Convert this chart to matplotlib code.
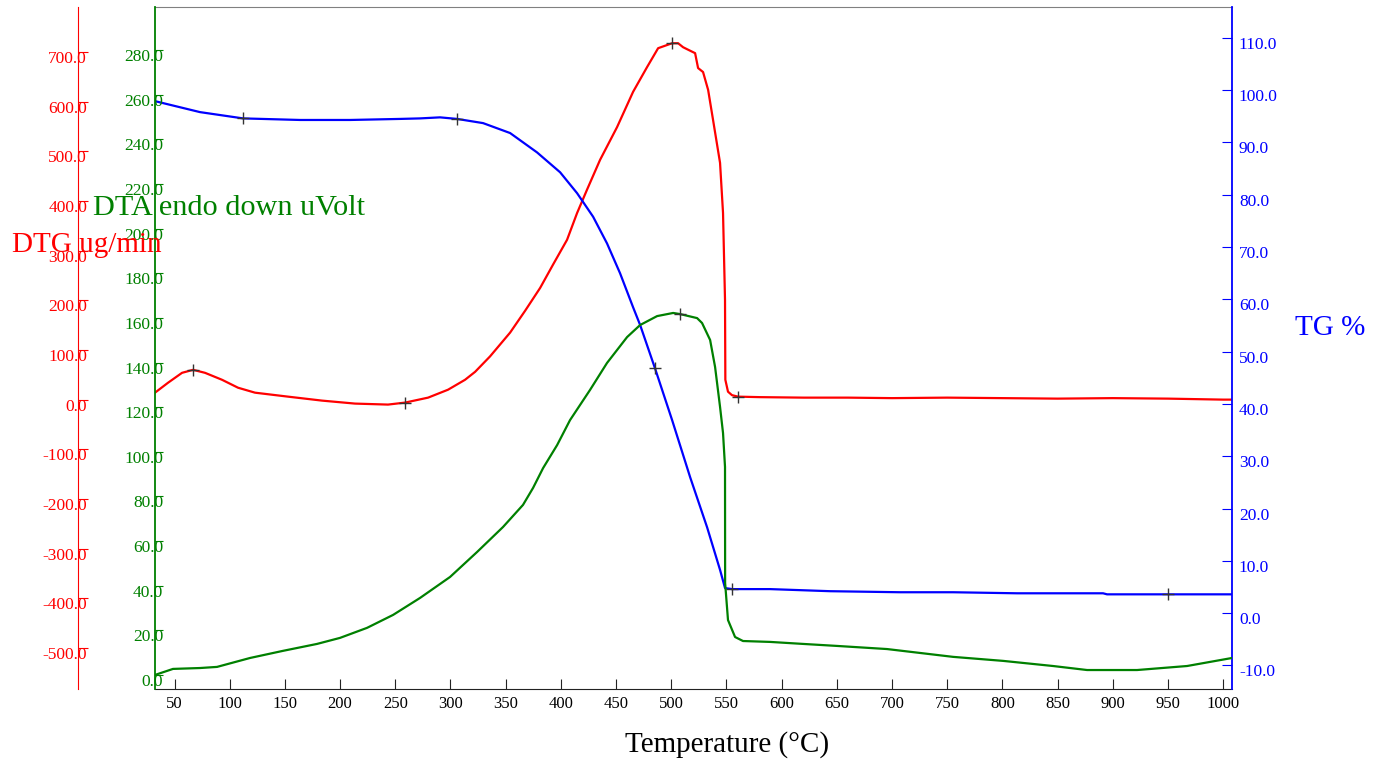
import numpy as np
import matplotlib
matplotlib.use("Agg")
import matplotlib.pyplot as plt
from matplotlib.transforms import ScaledTranslation

plt.rcParams['font.family'] = ['Liberation Serif', 'DejaVu Serif']

# --- data (temperature in °C) ---
dtg_t = [32.3, 44.1, 56.8, 66.8, 77.6, 93.0, 107.5, 122.9, 152.8, 183.6, 213.5, 243.4,
         258.8, 279.7, 297.8, 313.2, 322.3, 335.8, 354.0, 367.6, 381.2, 392.9, 405.6,
         414.7, 423.7, 435.5, 450.9, 465.4, 478.1, 488.1, 500.8, 506.2, 510.7, 514.3,
         521.6, 524.3, 528.8, 533.4, 537.9, 544.2, 546.9, 548.7, 549.0, 551.4, 555.0,
         560.5, 580, 620, 660, 700, 750, 800, 850, 900, 950, 1000, 1008]
dtg_v = [14, 34, 54, 60, 54, 40, 24, 14, 6, -2, -8, -10,
         -6, 4, 20, 40, 56, 87, 135, 179, 225, 272, 322,
         376, 423, 483, 549, 620, 670, 708, 718, 718, 710, 706,
         698, 668, 660, 624, 563, 477, 376, 201, 40, 16, 9,
         6, 5, 4, 4, 3, 4, 3, 2, 3, 2, 0, 0]

tg_t = [32.3, 73.1, 112.1, 163.7, 209.0, 254.3, 272.4, 290.5, 306.0, 329.5, 354.0,
        378.4, 399.3, 414.7, 429.2, 441.8, 453.6, 465.4, 471.8, 485.3, 500.8, 517.1,
        532.5, 544.3, 548.7, 555.1, 589.5, 643.9, 707.3, 755.3, 813.3, 891.2, 894.8,
        1008]
tg_v = [97.9, 95.8, 94.6, 94.3, 94.3, 94.5, 94.6, 94.8, 94.5, 93.7, 91.8,
        88.1, 84.3, 80.3, 75.8, 70.7, 65.0, 58.5, 55.1, 46.8, 36.9, 26.0,
        16.4, 8.2, 4.8, 4.6, 4.6, 4.2, 4.0, 4.0, 3.8, 3.8, 3.6,
        3.6]

dta_t = [32.3, 48.6, 73.1, 88.5, 118.4, 148.3, 179.1, 199.9, 224.4, 248.0, 272.4,
         299.6, 324.1, 347.6, 365.7, 374.8, 383.9, 396.6, 408.3, 426.4, 441.8, 460.0,
         471.8, 487.2, 501.7, 508.0, 523.4, 527.9, 535.2, 539.7, 544.2, 546.9, 548.7,
         548.8, 551.4, 557.8, 565.0, 589.5, 619.4, 650.2, 695.5, 755.3, 800.6, 845.9,
         876.7, 922.0, 967.3, 1008]
dta_v = [0.0, 2.7, 3.1, 3.6, 7.6, 10.8, 13.9, 16.6, 21.1, 26.9, 34.5,
         43.9, 55.1, 66.3, 76.2, 83.8, 92.7, 103.0, 114.2, 127.7, 139.8, 151.4,
         156.8, 160.8, 162.2, 161.7, 159.9, 157.7, 150.1, 138.0, 120.1, 108.4, 93.2,
         41.2, 24.6, 17.0, 15.2, 14.8, 13.9, 13.0, 11.6, 8.1, 6.3, 4.0,
         2.2, 2.2, 4.0, 7.6]

# "+" markers placed on the curves
dtg_mark_t = [66.8, 258.8, 500.8, 560.5]
dtg_mark_v = [60, -6, 718, 6]
tg_mark_t = [112.1, 306.0, 485.3, 555.1, 950.1]
tg_mark_v = [94.6, 94.5, 46.8, 4.6, 3.6]
dta_mark_t = [508.0]
dta_mark_v = [161.7]

x_ticks = np.arange(50, 1001, 50)
dtg_ticks = np.arange(-500, 701, 100)
dta_ticks = np.arange(0, 281, 20)
tg_ticks = np.arange(-10, 111, 10)

RED, GREEN, BLUE = '#ff0000', '#008000', '#0000ff'

fig = plt.figure(figsize=(13.81, 7.65), dpi=100)
ax = fig.add_axes([155/1381, 1-689/765, 1077/1381, 682/765])  # DTG (red)
ax_tg = ax.twinx()
ax_dta = ax.twinx()

ax.set_xlim(32.3, 1008)
ax.set_ylim(-583, 791)
ax_tg.set_ylim(-14.5, 115.9)
ax_dta.set_ylim(-6.3, 299.3)

ax.plot(dtg_t, dtg_v, color=RED, lw=1.6)
ax_tg.plot(tg_t, tg_v, color=BLUE, lw=1.6)
ax_dta.plot(dta_t, dta_v, color=GREEN, lw=1.6)
ax.plot(dtg_mark_t, dtg_mark_v, '+', color='#333333', ms=8, mew=1)
ax_tg.plot(tg_mark_t, tg_mark_v, '+', color='#333333', ms=8, mew=1)
ax_dta.plot(dta_mark_t, dta_mark_v, '+', color='#333333', ms=8, mew=1)

# spines
ax.spines['right'].set_visible(False)
ax.spines['top'].set_color('#808080')
ax.spines['bottom'].set_color('#222222')
ax.spines['left'].set_position(('axes', (78 - 155) / 1077))
ax.spines['left'].set_color(RED)
ax.spines['left'].set_bounds(-583, 791)

for s in ['top', 'bottom', 'left']:
    ax_tg.spines[s].set_visible(False)
ax_tg.spines['right'].set_color(BLUE)
ax_tg.spines['right'].set_linewidth(1.3)

for s in ['top', 'bottom', 'right']:
    ax_dta.spines[s].set_visible(False)
ax_dta.spines['left'].set_visible(True)
ax_dta.spines['left'].set_color(GREEN)
ax_dta.spines['left'].set_linewidth(1.3)
ax_dta.yaxis.set_ticks_position('left')
ax_dta.yaxis.set_label_position('left')

# ticks
ax.set_xticks(x_ticks)
ax.set_xticklabels([str(v) for v in x_ticks])
ax.tick_params(axis='x', direction='in', length=7, pad=5, labelsize=12,
               colors='#222222', labelcolor='black')

ax.set_yticks(dtg_ticks)
ax.set_yticklabels([f'{v:.1f}' for v in dtg_ticks])
ax.tick_params(axis='y', direction='in', length=7, pad=-6.5, labelsize=12.5,
               colors=RED)

ax_tg.set_yticks(tg_ticks)
ax_tg.set_yticklabels([f'{v:.1f}' for v in tg_ticks])
ax_tg.tick_params(axis='y', direction='in', length=7, pad=5, labelsize=12.5,
                  colors=BLUE)

ax_dta.set_yticks(dta_ticks)
ax_dta.set_yticklabels([f'{v:.1f}' for v in dta_ticks])
ax_dta.tick_params(axis='y', direction='in', length=6, pad=-6, labelsize=12.5,
                   colors=GREEN)

# labels sit slightly below their tick marks in the reference
shift = ScaledTranslation(0, -5/100, fig.dpi_scale_trans)
for a in (ax, ax_tg, ax_dta):
    for lab in a.get_yticklabels():
        lab.set_transform(lab.get_transform() + shift)

fig.text(93/1381, 1-208/765, 'DTA endo down uVolt', color=GREEN, fontsize=21.8,
         ha='left', va='center')
fig.text(12/1381, 1-245/765, 'DTG ug/min', color=RED, fontsize=21,
         ha='left', va='center')
fig.text(1295/1381, 1-328/765, 'TG %', color=BLUE, fontsize=21,
         ha='left', va='center')
fig.text(727/1381, 1-745/765, 'Temperature (°C)', color='black', fontsize=21,
         ha='center', va='center')

fig.savefig('out.png', dpi=100)
